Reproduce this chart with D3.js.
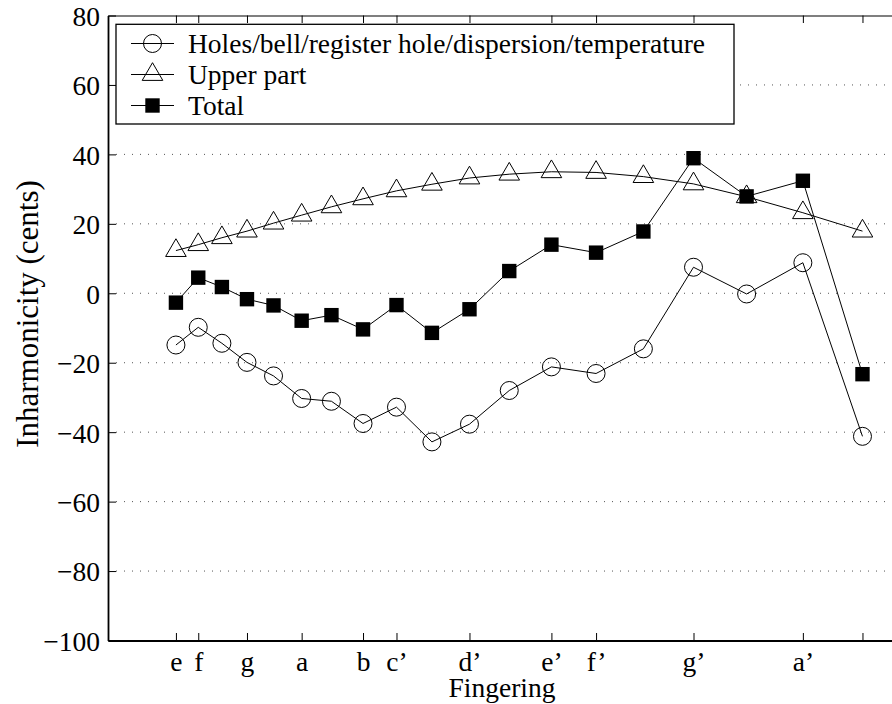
<!DOCTYPE html>
<html>
<head>
<meta charset="utf-8">
<script src="https://cdn.jsdelivr.net/npm/d3@7"></script>
<style>
  body { margin: 0; background: #fff; }
</style>
</head>
<body>
<div class="chart"></div>
<script>
// note frequencies (Hz) of each fingering, e .. a#'
const freqs = [329.63, 349.23, 369.99, 392.00, 415.30, 440.00, 466.16, 493.88, 523.25, 554.37,
               587.33, 622.25, 659.26, 698.46, 739.99, 783.99, 830.61, 880.00, 932.33];

const holes = [-14.9, -9.8, -14.4, -19.9, -23.8, -30.3, -31.1, -37.5, -32.8, -42.8,
               -37.7, -28.0, -21.2, -23.1, -16.0, 7.5, -0.2, 8.8, -41.2];
const upper = [12.3, 14.0, 16.0, 17.9, 20.2, 22.5, 24.9, 27.2, 29.5, 31.4,
               33.2, 34.3, 35.0, 34.8, 33.6, 31.5, 27.8, 23.2, 17.9];
const total = [-2.7, 4.5, 1.8, -1.7, -3.5, -7.9, -6.3, -10.4, -3.4, -11.4,
               -4.6, 6.4, 14.0, 11.7, 17.8, 38.9, 27.9, 32.4, -23.3];

const xTickVals = [329.63, 349.23, 392.00, 440.00, 493.88, 523.25, 587.33, 659.26, 698.46, 783.99, 880.00, 932.33];
const xTickLabels = ['e', 'f', 'g', 'a', 'b', 'c\u2019', 'd\u2019', 'e\u2019', 'f\u2019', 'g\u2019', 'a\u2019', ''];
const yTickVals = [80, 60, 40, 20, 0, -20, -40, -60, -80, -100];

const legendNames = ['Holes/bell/register hole/dispersion/temperature', 'Upper part', 'Total'];

const W = 892, H = 704;
const plot = { left: 108, right: 894, top: 15.5, bottom: 640.5 };
const fs = 27.5;
const serif = '"Liberation Serif"';

const svg = d3.select('.chart').append('svg')
    .attr('width', W)
    .attr('height', H);

const x = d3.scaleLinear().domain([270, 960]).range([plot.left, plot.right]);
const y = d3.scaleLinear().domain([-100, 80]).range([plot.bottom, plot.top]);

// dotted horizontal grid
svg.append('g')
    .selectAll('line')
    .data(yTickVals.filter(v => v > -100 && v < 80))
    .enter()
    .append('line')
    .attr('x1', plot.left)
    .attr('x2', plot.right)
    .attr('y1', d => y(d))
    .attr('y2', d => y(d))
    .attr('stroke', '#555')
    .attr('stroke-width', 1)
    .attr('stroke-dasharray', '1,7');

// axes (ticks point inward, matlab style)
const xAxisB = svg.append('g')
    .attr('transform', `translate(0,${plot.bottom})`)
    .call(d3.axisBottom(x).tickValues(xTickVals).tickSizeInner(-7.5).tickSizeOuter(0)
        .tickFormat((d, i) => xTickLabels[i]));
xAxisB.select('.domain').attr('stroke-width', 1.8);

const xAxisT = svg.append('g')
    .attr('transform', `translate(0,${plot.top})`)
    .call(d3.axisTop(x).tickValues(xTickVals).tickSizeInner(-7.5).tickSizeOuter(0).tickFormat(''));
xAxisT.select('.domain').attr('stroke-width', 1.2);

const yAxis = svg.append('g')
    .attr('transform', `translate(${plot.left},0)`)
    .call(d3.axisLeft(y).tickValues(yTickVals).tickSizeInner(-8).tickSizeOuter(0)
        .tickFormat(d3.format('d')));
yAxis.select('.domain').attr('stroke-width', 1.8);

xAxisB.selectAll('text').attr('y', 30.5).attr('dy', null);
yAxis.selectAll('text').attr('x', -8).attr('dy', '0.36em');
svg.selectAll('.tick line').attr('stroke', '#000');

// series
const line = d3.line().x((d, i) => x(freqs[i])).y(d => y(d));
const seriesList = [holes, upper, total];

const triPath = 'M0,-11.8L10.3,5.9L-10.3,5.9Z';

function drawMarker(sel, kind) {
    if (kind === 0) {
        sel.append('circle').attr('r', 9).attr('fill', 'none').attr('stroke', '#000').attr('stroke-width', 1);
    } else if (kind === 1) {
        sel.append('path').attr('d', triPath).attr('fill', 'none').attr('stroke', '#000').attr('stroke-width', 1);
    } else {
        sel.append('rect').attr('x', -7.2).attr('y', -7.2).attr('width', 14.4).attr('height', 14.4).attr('fill', '#000');
    }
}

seriesList.forEach((vals, k) => {
    svg.append('path')
        .datum(vals)
        .attr('d', line)
        .attr('fill', 'none')
        .attr('stroke', '#000')
        .attr('stroke-width', 1);
    svg.append('g')
        .selectAll('g')
        .data(vals)
        .enter()
        .append('g')
        .attr('transform', (d, i) => `translate(${x(freqs[i])},${y(d)})`)
        .each(function() { drawMarker(d3.select(this), k); });
});

// legend
const lg = svg.append('g');
lg.append('rect')
    .attr('x', 116).attr('y', 24.3)
    .attr('width', 618).attr('height', 99.7)
    .attr('fill', '#fff')
    .attr('stroke', '#000')
    .attr('stroke-width', 1.3);
legendNames.forEach((name, i) => {
    const cy = 43.5 + i * 31;
    lg.append('line')
        .attr('x1', 131).attr('x2', 174)
        .attr('y1', cy).attr('y2', cy)
        .attr('stroke', '#000').attr('stroke-width', 1);
    const m = lg.append('g').attr('transform', `translate(152.5,${cy})`);
    drawMarker(m, i);
    lg.append('text')
        .attr('x', 188)
        .attr('y', cy)
        .attr('dy', '0.33em')
        .text(name);
});

// axis labels
svg.append('text')
    .attr('x', 502)
    .attr('y', 697)
    .attr('text-anchor', 'middle')
    .text('Fingering');

svg.selectAll('text')
    .attr('font-family', null)
    .style('font-family', serif)
    .style('font-size', fs + 'px')
    .attr('fill', '#000');

svg.append('text')
    .attr('transform', 'translate(38,314) rotate(-90)')
    .attr('text-anchor', 'middle')
    .style('font-family', serif)
    .style('font-size', '31px')
    .attr('fill', '#000')
    .text('Inharmonicity (cents)');
</script>
</body>
</html>
